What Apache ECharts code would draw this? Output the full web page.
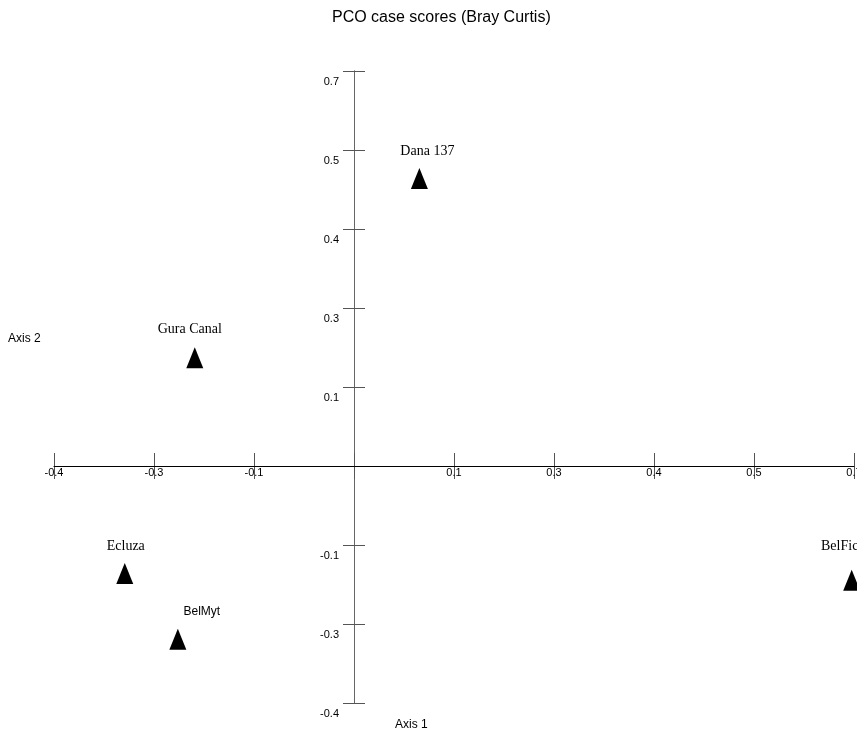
<!DOCTYPE html>
<html>
<head>
<meta charset="utf-8">
<script src="https://cdn.jsdelivr.net/npm/echarts@6/dist/echarts.min.js"></script>
<style>
  html, body { margin: 0; padding: 0; background: #fff; }
  #chart { width: 857px; height: 729px; }
</style>
</head>
<body>
<div id="chart"></div>
<script>
// PCO case scores (Bray Curtis) — site scores on the first two axes
const siteNames = ['Dana 137', 'Gura Canal', 'Ecluza', 'BelMyt', 'BelFic'];
const axis1Scores = [0.085, -0.207, -0.298, -0.229, 0.647];
const axis2Scores = [0.473, 0.178, -0.177, -0.285, -0.188];

// Both axes run in steps of 0.13; labels are shown rounded to one decimal
const axisStep = 0.13;
const axisMin = -0.39;
const axisMax = 0.65;
const axis1TickLabels = ['-0.4', '-0.3', '-0.1', '', '0.1', '0.3', '0.4', '0.5', '0.7'];
const axis2TickLabels = ['-0.4', '-0.3', '-0.1', '', '0.1', '0.3', '0.4', '0.5', '0.7'];

// label placement around each marker, in pixels
const labelNudge = [[8, -27], [-5, -29], [1, -27], [24, -28], [-12, -34]];

const SANS = '"Liberation Sans", Arial, sans-serif';
const SERIF = '"Liberation Serif", "Times New Roman", serif';

// plot frame in pixels
const W = 857, H = 729;
const gridBox = { left: 54, right: 3, top: 71, bottom: 26 };
const plotW = W - gridBox.left - gridBox.right;
const plotH = H - gridBox.top - gridBox.bottom;
// where the zero lines fall inside the frame
const zeroX = plotW * (0 - axisMin) / (axisMax - axisMin);
const zeroY = plotH * (axisMax - 0) / (axisMax - axisMin);

function tickText(labels) {
  return v => {
    const i = Math.round((v - axisMin) / axisStep);
    return labels[i] !== undefined ? labels[i] : '';
  };
}

const tickColor = '#555';

// two x axes share the zero line: one carries the upward ticks and labels, the other the downward ticks
function xAxisDef(tickInside, showLabel, showLine) {
  return {
    type: 'value', position: 'bottom', offset: -(plotH - zeroY),
    min: axisMin, max: axisMax, interval: axisStep,
    axisLine: { show: showLine, onZero: false, lineStyle: { color: '#000', width: 1 } },
    axisTick: { show: true, inside: tickInside, length: 13, lineStyle: { color: tickColor, width: 1 } },
    axisLabel: {
      show: showLabel, margin: 1, fontSize: 11, color: '#000', fontFamily: SANS,
      formatter: tickText(axis1TickLabels),
      showMinLabel: true, showMaxLabel: true, hideOverlap: false
    },
    splitLine: { show: false },
    z: showLine ? 3 : 2
  };
}

function yAxisDef(position, offset, showLabel) {
  return {
    type: 'value', position, offset, min: axisMin, max: axisMax, interval: axisStep,
    axisLine: { show: true, onZero: false, lineStyle: { color: '#666', width: 1 } },
    axisTick: { show: true, inside: true, length: 11, lineStyle: { color: tickColor, width: 1 } },
    axisLabel: {
      show: showLabel, margin: 15, fontSize: 11, color: '#000', fontFamily: SANS,
      verticalAlign: 'top', padding: [5, 0, 0, 0],
      formatter: tickText(axis2TickLabels),
      showMinLabel: true, showMaxLabel: true, hideOverlap: false
    },
    splitLine: { show: false },
    z: 1
  };
}

const points = siteNames.map((name, i) => ({
  name,
  value: [axis1Scores[i], axis2Scores[i]],
  label: {
    offset: labelNudge[i],
    fontFamily: name === 'BelMyt' ? SANS : SERIF,
    fontSize: name === 'BelMyt' ? 12 : 14
  }
}));

const chart = echarts.init(document.getElementById('chart'), null, { renderer: 'canvas' });
chart.setOption({
  animation: false,
  backgroundColor: '#fff',
  title: [
    { text: 'PCO case scores (Bray Curtis)', left: 332, top: 10, padding: 0,
      textStyle: { fontFamily: SANS, fontSize: 16, fontWeight: 'normal', color: '#000' } },
    { text: 'Axis 2', left: 8, top: 333, padding: 0,
      textStyle: { fontFamily: SANS, fontSize: 12, fontWeight: 'normal', color: '#000' } },
    { text: 'Axis 1', left: 395, top: 719, padding: 0,
      textStyle: { fontFamily: SANS, fontSize: 12, fontWeight: 'normal', color: '#000' } }
  ],
  grid: Object.assign({ containLabel: false, outerBoundsMode: 'none' }, gridBox),
  xAxis: [
    xAxisDef(true, true, true),
    xAxisDef(false, false, false)
  ],
  yAxis: [
    yAxisDef('left', -zeroX, true),
    yAxisDef('right', -(plotW - zeroX), false)
  ],
  series: [{
    type: 'scatter',
    xAxisIndex: 0, yAxisIndex: 0,
    symbol: 'triangle',
    symbolSize: [17, 21],
    itemStyle: { color: '#000', opacity: 1 },
    label: {
      show: true, position: 'inside', color: '#000',
      formatter: p => p.name
    },
    emphasis: { disabled: true },
    clip: false,
    data: points
  }]
});
</script>
</body>
</html>
